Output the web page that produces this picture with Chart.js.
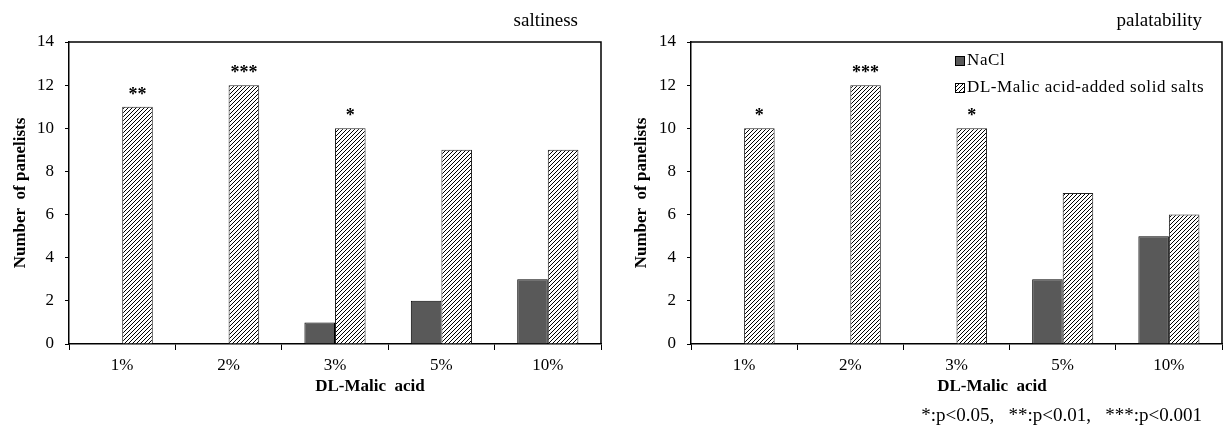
<!DOCTYPE html>
<html><head><meta charset="utf-8">
<script src="https://cdn.jsdelivr.net/npm/chart.js@4.4.0/dist/chart.umd.min.js"></script>
<style>
html,body{margin:0;padding:0;background:#fff;}
#wrap{position:relative;width:1223px;height:429px;overflow:hidden;background:#fff;}
.box{position:absolute;top:0;height:429px;}
</style></head><body>
<div id="wrap">
<div class="box" style="left:0;width:611px"><canvas id="c1"></canvas></div>
<div class="box" style="left:611px;width:612px"><canvas id="c2"></canvas></div>
</div>
<script>
const categories = ['1%', '2%', '3%', '5%', '10%'];
const seriesNames = ['NaCl', 'DL-Malic acid-added solid salts'];
const saltNaCl = [0, 0, 1, 2, 3];
const saltMalic = [11, 12, 10, 9, 9];
const saltSig = ['**', '***', '*', '', ''];
const palNaCl = [0, 0, 0, 3, 5];
const palMalic = [10, 12, 10, 7, 6];
const palSig = ['*', '***', '*', '', ''];
const yTicks = [0, 2, 4, 6, 8, 10, 12, 14];
const titles = ['saltiness', 'palatability'];
const xTitle = 'DL-Malic  acid';
const yTitle = 'Number  of panelists';
const footnote = '*:p<0.05,   **:p<0.01,   ***:p<0.001';

const SERIF = '"Liberation Serif", "Times New Roman", serif';

function hatch() {
  const c = document.createElement('canvas');
  c.width = 4; c.height = 4;
  const g = c.getContext('2d');
  g.fillStyle = '#fff'; g.fillRect(0, 0, 4, 4);
  g.strokeStyle = '#000'; g.lineWidth = 1;
  g.beginPath();
  g.moveTo(0, 4); g.lineTo(4, 0);
  g.moveTo(-1, 1); g.lineTo(1, -1);
  g.moveTo(3, 5); g.lineTo(5, 3);
  g.stroke();
  return g.createPattern(c, 'repeat');
}
const HATCH = hatch();
const DARK = '#595959';

const annPlugin = {
  id: 'ann',
  afterDraw(chart, args, o) {
    const ctx = chart.ctx, ca = chart.chartArea;
    ctx.save();
    ctx.strokeStyle = '#000'; ctx.lineWidth = 1.5;
    ctx.beginPath();
    ctx.moveTo(ca.left, ca.top); ctx.lineTo(ca.right, ca.top); ctx.lineTo(ca.right, ca.bottom);
    ctx.stroke();
    ctx.fillStyle = '#000';
    // title
    ctx.font = '19px ' + SERIF; ctx.textAlign = 'right'; ctx.textBaseline = 'middle';
    ctx.fillText(o.title, o.titleX, 21);
    // x title
    ctx.font = 'bold 17px ' + SERIF; ctx.textAlign = 'center';
    ctx.fillText(xTitle, ca.left + 301, 387);
    // y title
    ctx.save();
    ctx.translate(o.yTitleX, 193); ctx.rotate(-Math.PI / 2);
    ctx.fillText(yTitle, 0, 0);
    ctx.restore();
    // significance
    const meta = chart.getDatasetMeta(1);
    ctx.font = 'bold 18px ' + SERIF; ctx.textBaseline = 'alphabetic'; ctx.textAlign = 'center';
    o.sig.forEach((s, i) => {
      const el = meta.data[i];
      if (s) ctx.fillText(s, el.x, el.y - 7);
    });
    // legend
    if (o.legend) {
      const ds = chart.data.datasets;
      const rows = [61, 88];
      ds.forEach((d, i) => {
        const y = rows[i];
        ctx.fillStyle = d.backgroundColor;
        ctx.fillRect(o.legendX, y - 5, 10, 10);
        ctx.strokeStyle = '#000'; ctx.lineWidth = 1;
        ctx.strokeRect(o.legendX + 0.5, y - 4.5, 9, 9);
        ctx.fillStyle = '#000';
        ctx.font = '17px ' + SERIF; ctx.textAlign = 'left'; ctx.textBaseline = 'middle';
        try { ctx.letterSpacing = '0.6px'; } catch (e) {}
        ctx.fillText(d.label, o.legendX + 12, y);
        try { ctx.letterSpacing = '0px'; } catch (e) {}
      });
    }
    if (o.footnote) {
      ctx.fillStyle = '#000';
      ctx.font = '19px ' + SERIF; ctx.textAlign = 'right'; ctx.textBaseline = 'middle';
      ctx.fillText(o.footnote, o.footX, 416);
    }
    ctx.restore();
  }
};

function makeChart(id, nacl, malic, opts) {
  return new Chart(document.getElementById(id), {
    type: 'bar',
    data: {
      labels: categories,
      datasets: [
        { label: seriesNames[0], data: nacl, backgroundColor: DARK, borderColor: '#000', borderWidth: 1, borderSkipped: 'bottom' },
        { label: seriesNames[1], data: malic, backgroundColor: HATCH, borderColor: '#222', borderWidth: 1, borderSkipped: 'bottom' }
      ]
    },
    options: {
      responsive: true, maintainAspectRatio: false, animation: false,
      datasets: { bar: { barPercentage: 1, categoryPercentage: 0.575 } },
      layout: { padding: { left: 0, top: 42, right: opts.padRight, bottom: 0 } },
      plugins: { legend: { display: false }, tooltip: { enabled: false }, ann: opts.ann },
      scales: {
        x: {
          afterFit(s) { s.height = 85; },
          grid: { drawOnChartArea: false, drawTicks: true, tickLength: 6, color: '#000', offset: true },
          border: { display: true, color: '#000', width: 1.5 },
          ticks: { color: '#000', padding: 5, font: { family: SERIF, size: 17 } }
        },
        y: {
          min: 0, max: 14,
          afterFit(s) { s.width = opts.yWidth; },
          afterBuildTicks(s) { s.ticks = yTicks.map(v => ({ value: v })); },
          grid: { drawOnChartArea: false, drawTicks: true, tickLength: 4, color: '#000' },
          border: { display: true, color: '#000', width: 1.5 },
          ticks: { color: '#000', padding: 11, font: { family: SERIF, size: 17 } }
        }
      }
    },
    plugins: [annPlugin]
  });
}

makeChart('c1', saltNaCl, saltMalic, {
  padRight: 10, yWidth: 69,
  ann: { title: titles[0], titleX: 578, yTitleX: 21, sig: saltSig, legend: false }
});
makeChart('c2', palNaCl, palMalic, {
  padRight: 1, yWidth: 80,
  ann: { title: titles[1], titleX: 591, yTitleX: 31, sig: palSig, legend: true, legendX: 344, footnote: footnote, footX: 591 }
});
</script>
</body></html>
